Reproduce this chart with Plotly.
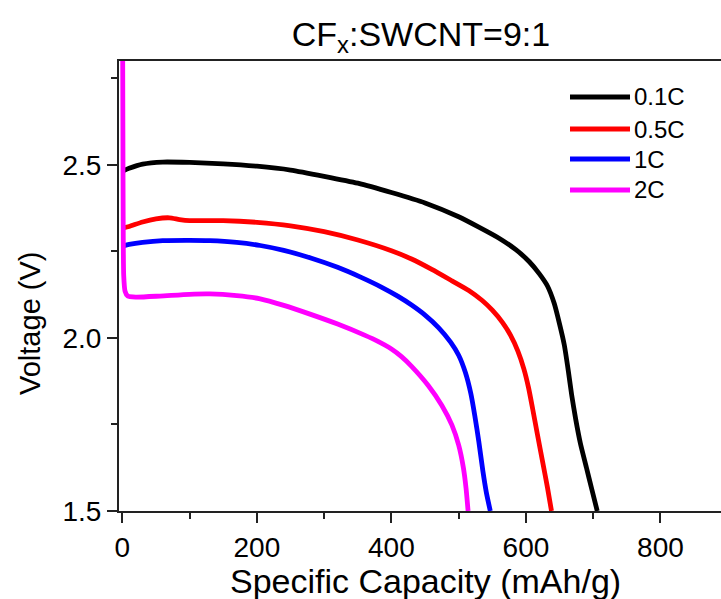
import plotly.graph_objects as go

# ---- data ----
names = ["0.1C", "0.5C", "1C", "2C"]
colors = ["#000000", "#ff0000", "#0000ff", "#ff00ff"]

cap_01C = [1.5, 10, 30, 60, 100, 150, 200, 250, 300, 350, 400, 450, 500, 530, 560, 585, 605,
           620, 632, 642, 650, 657, 663, 668, 674, 681, 690, 698, 706]
volt_01C = [2.483, 2.490, 2.502, 2.508, 2.507, 2.503, 2.496, 2.485, 2.467, 2.447, 2.420, 2.390,
            2.350, 2.320, 2.288, 2.255, 2.220, 2.185, 2.150, 2.100, 2.040, 1.980, 1.905, 1.835,
            1.765, 1.695, 1.625, 1.562, 1.500]

cap_05C = [1.5, 10, 30, 50, 70, 85, 100, 150, 200, 250, 300, 350, 400, 430, 460, 490, 515,
           535, 550, 565, 577, 588, 597, 604, 610, 617, 625, 632, 638]
volt_05C = [2.318, 2.322, 2.335, 2.344, 2.347, 2.342, 2.339, 2.339, 2.334, 2.324, 2.307, 2.283,
            2.252, 2.228, 2.198, 2.165, 2.137, 2.108, 2.080, 2.045, 2.008, 1.962, 1.910, 1.855,
            1.795, 1.722, 1.640, 1.568, 1.500]

cap_1C = [1.5, 10, 30, 60, 100, 130, 170, 205, 240, 280, 320, 355, 385, 410, 430, 450, 470,
          488, 500, 510, 518, 524, 530, 536, 541, 547]
volt_1C = [2.266, 2.270, 2.276, 2.281, 2.282, 2.281, 2.276, 2.267, 2.253, 2.231, 2.204, 2.175,
           2.147, 2.120, 2.095, 2.066, 2.030, 1.988, 1.950, 1.900, 1.840, 1.775, 1.700, 1.615,
           1.555, 1.500]

cap_2C = [0.5, 0.8, 1.2, 2, 4, 8, 20, 56, 100, 130, 170, 205, 240, 280, 320, 360, 380, 400,
          415, 430, 455, 475, 490, 500, 507, 511, 514]
volt_2C = [2.80, 2.60, 2.35, 2.18, 2.135, 2.121, 2.118, 2.121, 2.126, 2.127, 2.122, 2.113,
           2.094, 2.068, 2.040, 2.008, 1.990, 1.968, 1.946, 1.918, 1.862, 1.805, 1.748, 1.690,
           1.625, 1.565, 1.500]

capacities = [cap_01C, cap_05C, cap_1C, cap_2C]
voltages = [volt_01C, volt_05C, volt_1C, volt_2C]

x_range = [-5, 890]
y_range = [1.5, 2.8]

FONT = "Liberation Sans, Arial, sans-serif"

fig = go.Figure()
for name, col, xs, ys in zip(names, colors, capacities, voltages):
    fig.add_trace(go.Scatter(x=xs, y=ys, mode="lines", name=name,
                             line=dict(color=col, width=4.8, shape="spline", smoothing=0.6),
                             showlegend=False))

W, H = 721, 599
ML, MR, MT, MB = 119, 0, 61, 88
pw, ph = W - ML - MR, H - MT - MB

def px_to_paper_x(px):
    return (px - ML) / pw

def px_to_paper_y(py):
    return (H - MB - py) / ph

# custom legend (long line samples as in the reference)
legend_rows_py = [97, 129, 159, 190]
shapes = []
annotations = []
for name, col, py in zip(names, colors, legend_rows_py):
    yp = px_to_paper_y(py)
    shapes.append(dict(type="line", xref="paper", yref="paper",
                       x0=px_to_paper_x(570), x1=px_to_paper_x(630), y0=yp, y1=yp,
                       line=dict(color=col, width=5)))
    annotations.append(dict(text=name, xref="paper", yref="paper",
                            x=px_to_paper_x(632), y=yp, xanchor="left", yanchor="middle",
                            showarrow=False, font=dict(size=24, color="black", family=FONT)))

# axis titles
annotations.append(dict(text="Voltage (V)", xref="paper", yref="paper",
                        x=px_to_paper_x(30), y=px_to_paper_y(324), textangle=-90,
                        xanchor="center", yanchor="middle", showarrow=False,
                        font=dict(size=29, color="black", family=FONT)))
annotations.append(dict(text="Specific Capacity (mAh/g)", xref="paper", yref="paper",
                        x=px_to_paper_x(425), y=px_to_paper_y(581),
                        xanchor="center", yanchor="middle", showarrow=False,
                        font=dict(size=34, color="black", family=FONT)))

fig.update_layout(
    width=W, height=H,
    margin=dict(l=ML, r=MR, t=MT, b=MB),
    paper_bgcolor="white", plot_bgcolor="white",
    font=dict(family=FONT, color="black"),
    title=dict(text="CF<sub>x</sub>:SWCNT=9:1", x=421 / W, xref="container", xanchor="center",
               y=1 - 34 / H, yref="container", yanchor="middle",
               font=dict(size=34, color="black", family=FONT)),
    shapes=shapes,
    annotations=annotations,
    xaxis=dict(range=x_range, tick0=0, dtick=200, ticks="outside", ticklen=10, tickwidth=2,
               tickcolor="#222", showline=True, linecolor="#222", linewidth=2, mirror=True,
               showgrid=False, zeroline=False,
               tickfont=dict(size=28, color="black", family=FONT),
               minor=dict(ticks="outside", ticklen=6, tickwidth=2, tickcolor="#222",
                          tick0=0, dtick=100, showgrid=False)),
    yaxis=dict(range=y_range, tick0=1.5, dtick=0.5, tickformat=".1f", ticks="outside",
               ticklen=10, tickwidth=2, tickcolor="#222", showline=True, linecolor="#222",
               linewidth=2, mirror=False, showgrid=False, zeroline=False,
               tickfont=dict(size=28, color="black", family=FONT),
               minor=dict(ticks="outside", ticklen=6, tickwidth=2, tickcolor="#222",
                          tick0=1.5, dtick=0.25, showgrid=False)),
)

fig.write_html("out.html", config={"displayModeBar": False},
               post_script="document.body.style.margin='0';document.body.style.overflow='hidden';")
